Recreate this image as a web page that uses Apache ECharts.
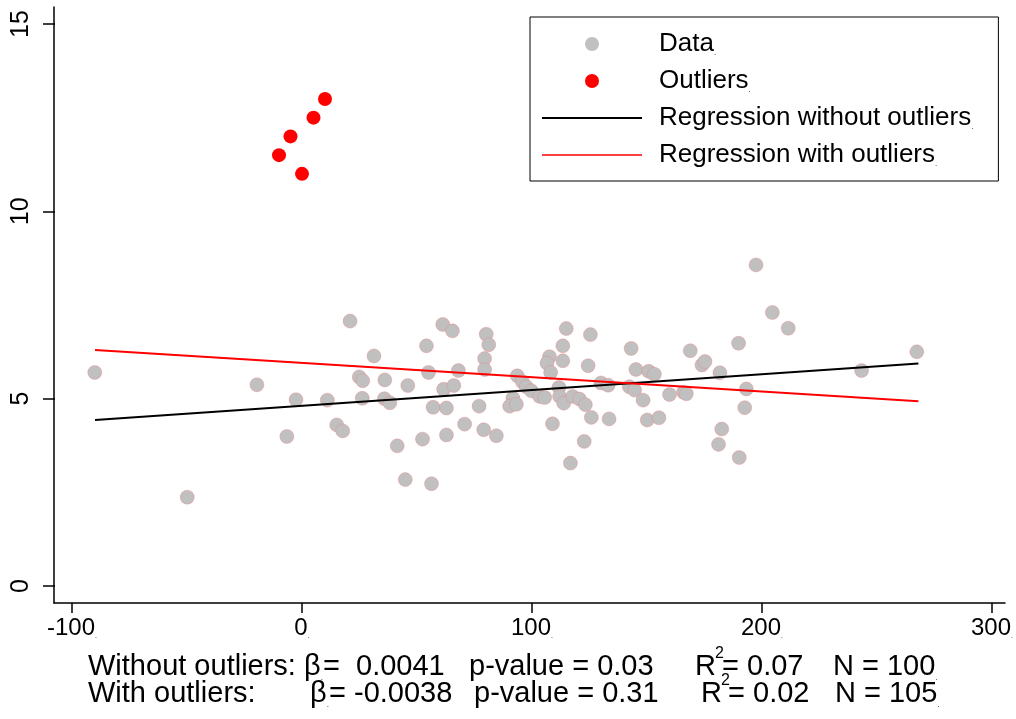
<!DOCTYPE html>
<html><head><meta charset="utf-8">
<script src="https://cdn.jsdelivr.net/npm/echarts/dist/echarts.min.js"></script>
<style>html,body{margin:0;padding:0;background:#fff}#c{width:1016px;height:719px}</style>
</head><body><div id="c"></div>
<script>
// ---- data ----
const dataX = [-90.1,-19.6,-2.6,-6.6,-49.9,20.9,31.3,24.9,26.4,26.2,11.0,15.1,17.7,36.0,35.8,38.2,46.0,41.4,44.9,52.4,56.3,54.1,55.0,57.0,61.2,65.4,61.6,66.0,62.8,62.8,68.0,70.7,77.0,79.0,84.5,80.1,81.2,79.4,79.4,93.6,95.8,97.5,99.7,91.7,90.3,93.2,103.3,114.9,113.4,113.4,107.6,106.5,108.1,125.4,124.4,105.5,111.7,112.0,113.8,117.7,120.6,123.2,130.0,133.1,125.8,133.5,108.9,122.7,116.7,143.1,145.2,150.7,153.2,142.3,144.6,148.3,150.1,155.2,159.8,165.9,167.1,168.8,173.9,175.2,181.7,189.8,193.2,192.5,182.5,181.1,190.1,197.4,204.5,211.4,243.3,267.3];
const dataY = [5.70,5.37,4.97,3.99,2.37,7.07,6.14,5.58,5.48,5.01,4.96,4.30,4.14,5.50,5.00,4.89,5.35,3.74,2.84,3.92,2.73,6.41,5.70,4.77,6.98,6.81,5.25,5.35,4.75,4.03,5.75,4.32,4.80,4.17,4.01,6.72,6.44,6.07,5.78,5.61,5.45,5.32,5.21,5.01,4.80,4.85,5.06,6.87,6.41,6.01,6.12,5.95,5.70,6.71,5.88,5.03,5.30,5.06,4.88,5.06,4.99,4.84,5.42,5.36,4.50,4.46,4.33,3.86,3.28,6.34,5.78,5.73,5.65,5.32,5.23,4.96,4.43,4.49,5.11,5.17,5.13,6.28,5.90,5.99,5.69,6.48,5.26,4.76,4.19,3.78,3.43,8.57,7.30,6.88,5.75,6.25];
const outlierX = [-10, -5, 0, 5, 10];
const outlierY = [11.5, 12, 11, 12.5, 13];
const regX = [-90, 268];
const regWithoutY = [4.43, 5.94];
const regWithY = [6.30, 4.93];
const xTicks = [-100, 0, 100, 200, 300];
const yTicks = [0, 5, 10, 15];
const legendNames = ['Data', 'Outliers', 'Regression without outliers', 'Regression with outliers'];
const statRows = ['Without outliers:', 'With outliers:'];
const statBeta = ['0.0041', '-0.0038'];
const statP = ['0.03', '0.31'];
const statR2 = ['0.07', '0.02'];
const statN = ['100', '105'];

const FONT = "'Liberation Sans', Arial, sans-serif";
const pts = dataX.map((x, i) => [x, dataY[i]]);
const outPts = outlierX.map((x, i) => [x, outlierY[i]]);
const lineA = regX.map((x, i) => [x, regWithoutY[i]]);
const lineB = regX.map((x, i) => [x, regWithY[i]]);

// bottom statistics text (layout positions only)
const rowY = [667, 694];
const colX = [
  {label: 88, beta: 304, eq: 323, p: 469, r: 695, req: 714, n: 833},
  {label: 88, beta: 310, eq: 329, p: 474, r: 701, req: 720, n: 835}
];
const FS = 29;
const graphics = [];
function txt(x, y, text, size) {
  graphics.push({type: 'text', x: x, y: y, style: {
    text: text, fill: '#000', fontSize: size, fontFamily: FONT, verticalAlign: 'middle',
    rich: {d: {fontSize: 8, fontFamily: FONT, verticalAlign: 'bottom', fill: '#000'}}
  }});
}
statRows.forEach((lab, i) => {
  const c = colX[i], y = rowY[i];
  txt(c.label, y, lab, FS);
  txt(c.beta, y, 'β{d|.}', FS);
  txt(c.eq, y, (i === 0 ? '=  ' : '= ') + statBeta[i], FS);
  txt(c.p, y, 'p-value = ' + statP[i], FS);
  txt(c.r, y, 'R', FS);
  txt(c.r + 20, y - 13, '2', 16);
  txt(c.req, y, ' = ' + statR2[i], FS);
  txt(c.n, y, 'N = ' + statN[i] + '{d|.}', FS);
});

const chart = echarts.init(document.getElementById('c'), null, {renderer: 'canvas'});
chart.setOption({
  animation: false,
  backgroundColor: '#fff',
  grid: [
    {left: 54, right: 11, top: 7, bottom: 116, show: false},
    {left: 72, right: 23, top: 24, bottom: 133, show: false}
  ],
  xAxis: [
    {gridIndex: 0, type: 'value', min: 0, max: 1, axisLine: {show: true, onZero: false, lineStyle: {color: '#000', width: 1.5}},
     axisTick: {show: false}, axisLabel: {show: false}, splitLine: {show: false}},
    {gridIndex: 1, type: 'value', min: xTicks[0], max: xTicks[xTicks.length - 1], interval: 100, offset: 17,
     axisLine: {show: false, onZero: false}, axisTick: {show: true, length: 10, lineStyle: {color: '#000', width: 1.5}},
     axisLabel: {color: '#000', fontSize: 24, fontFamily: FONT, margin: 13,
       formatter: v => v + '{d|.}', rich: {d: {fontSize: 7, fontFamily: FONT, verticalAlign: 'bottom', color: '#000'}}},
     splitLine: {show: false}}
  ],
  yAxis: [
    {gridIndex: 0, type: 'value', min: 0, max: 1, axisLine: {show: true, onZero: false, lineStyle: {color: '#000', width: 1.5}},
     axisTick: {show: false}, axisLabel: {show: false}, splitLine: {show: false}},
    {gridIndex: 1, type: 'value', min: yTicks[0], max: yTicks[yTicks.length - 1], interval: 5, offset: 17,
     axisLine: {show: false, onZero: false}, axisTick: {show: true, length: 12, lineStyle: {color: '#000', width: 1.5}},
     axisLabel: {color: '#000', fontSize: 25, fontFamily: FONT, rotate: 90, margin: 21},
     splitLine: {show: false}}
  ],
  legend: {
    data: [
      {name: legendNames[0], itemStyle: {borderWidth: 0}},
      {name: legendNames[1]},
      {name: legendNames[2], itemStyle: {opacity: 0}},
      {name: legendNames[3], itemStyle: {opacity: 0}, lineStyle: {width: 1.5}}
    ],
    orient: 'vertical', left: 530, top: 17,
    itemWidth: 100, itemHeight: 14, itemGap: 11,
    padding: [14, 25, 13, 11], borderColor: '#000', borderWidth: 1, backgroundColor: '#fff',
    formatter: n => n + '{d|.}',
    textStyle: {color: '#000', fontSize: 26, fontFamily: FONT, padding: [0, 0, 0, 12],
      rich: {d: {fontSize: 8, fontFamily: FONT, verticalAlign: 'bottom', color: '#000'}}}
  },
  series: [
    {name: legendNames[0], type: 'scatter', xAxisIndex: 1, yAxisIndex: 1, data: pts, symbolSize: 14, z: 2,
     itemStyle: {color: '#c0c0c0', borderColor: 'rgba(240,120,120,0.6)', borderWidth: 0.6, opacity: 1}},
    {name: legendNames[1], type: 'scatter', xAxisIndex: 1, yAxisIndex: 1, data: outPts, symbolSize: 14, z: 2,
     itemStyle: {color: '#ff0000', opacity: 1}},
    {name: legendNames[2], type: 'line', xAxisIndex: 1, yAxisIndex: 1, data: lineA, symbol: 'none', z: 3,
     lineStyle: {color: '#000', width: 2}, itemStyle: {color: '#000'}},
    {name: legendNames[3], type: 'line', xAxisIndex: 1, yAxisIndex: 1, data: lineB, symbol: 'none', z: 3,
     lineStyle: {color: '#ff0000', width: 2}, itemStyle: {color: '#ff0000'}}
  ],
  graphic: graphics
});
</script></body></html>
